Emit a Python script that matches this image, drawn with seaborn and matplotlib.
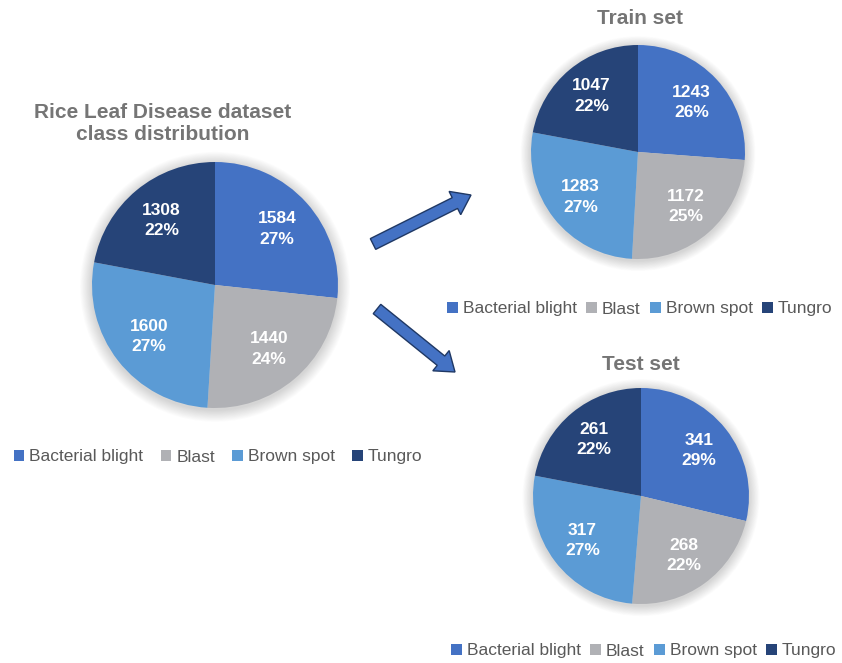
import matplotlib
matplotlib.use("Agg")
import matplotlib.pyplot as plt
from matplotlib.patches import Patch, FancyArrow, Circle
import seaborn as sns

categories = ["Bacterial blight", "Blast", "Brown spot", "Tungro"]
full_counts = [1584, 1440, 1600, 1308]
full_pcts = ["27%", "24%", "27%", "22%"]
train_counts = [1243, 1172, 1283, 1047]
train_pcts = ["26%", "25%", "27%", "22%"]
test_counts = [341, 268, 317, 261]
test_pcts = ["29%", "22%", "27%", "22%"]

colors = sns.color_palette(["#4472C4", "#B0B1B5", "#5B9BD5", "#264478"])

sns.set_theme(style="white")
plt.rcParams["font.family"] = ["Liberation Sans", "DejaVu Sans"]

W, H = 842, 663
fig = plt.figure(figsize=(W / 100, H / 100), dpi=100)
fig.patch.set_facecolor("white")

TITLE_C = "#757575"
LEG_C = "#595959"


def pie_at(cx, cy, r, counts, pcts):
    ax = fig.add_axes([(cx - r) / W, 1 - (cy + r) / H, 2 * r / W, 2 * r / H])
    labels = [f"{c}\n{p}" for c, p in zip(counts, pcts)]
    wedges, texts = ax.pie(counts, colors=colors, startangle=90, counterclock=False,
                           radius=1, labels=labels, labeldistance=0.68,
                           wedgeprops=dict(linewidth=0), textprops=dict(
                               color="white", fontweight="bold", fontsize=12.5,
                               ha="center", va="center", linespacing=1.45))
    ax.set_xlim(-1, 1)
    ax.set_ylim(-1, 1)
    ax.set_aspect("equal")
    ax.axis("off")
    # soft shadow
    n = 14
    for i in range(n):
        ax.add_patch(Circle((0.0, -0.015), 1.0 + 0.007 * (i + 1), color="black",
                            alpha=0.011, lw=0, zorder=0, clip_on=False))
    for w in wedges:
        w.set_zorder(2)
    for t in texts:
        t.set_zorder(3)
    return ax


pie_at(215, 285, 123, full_counts, full_pcts)
pie_at(638, 152, 107, train_counts, train_pcts)
pie_at(641, 496, 108, test_counts, test_pcts)

fig.text(163 / W, 1 - 124 / H, "Rice Leaf Disease dataset\nclass distribution",
         ha="center", va="center", fontsize=15, fontweight="bold", color=TITLE_C,
         linespacing=1.2)
fig.text(640 / W, 1 - 18 / H, "Train set", ha="center", va="center", fontsize=15,
         fontweight="bold", color=TITLE_C)
fig.text(641 / W, 1 - 364 / H, "Test set", ha="center", va="center", fontsize=15,
         fontweight="bold", color=TITLE_C)

handles = [Patch(facecolor=c, edgecolor="none") for c in colors]


def legend_at(cx, cy, colsp):
    fig.legend(handles, categories, loc="center", bbox_to_anchor=(cx / W, 1 - cy / H),
               ncol=4, frameon=False, fontsize=12.5, labelcolor=LEG_C,
               handlelength=0.6, handleheight=0.6, handletextpad=0.3,
               columnspacing=colsp, borderpad=0)


legend_at(218, 457, 1.0)
legend_at(640, 309, 0.55)
legend_at(644, 651, 0.55)

# arrows overlay
ov = fig.add_axes([0, 0, 1, 1], zorder=-1)
ov.set_xlim(0, W)
ov.set_ylim(H, 0)
ov.axis("off")
for (x0, y0, x1, y1) in [(373, 244, 471, 195), (377, 309, 455, 372)]:
    ov.add_patch(FancyArrow(x0, y0, x1 - x0, y1 - y0, width=12, head_width=26,
                            head_length=18, length_includes_head=True,
                            facecolor="#4472C4", edgecolor="#1F3864", linewidth=1))

fig.savefig("out.png", dpi=100, facecolor="white")
